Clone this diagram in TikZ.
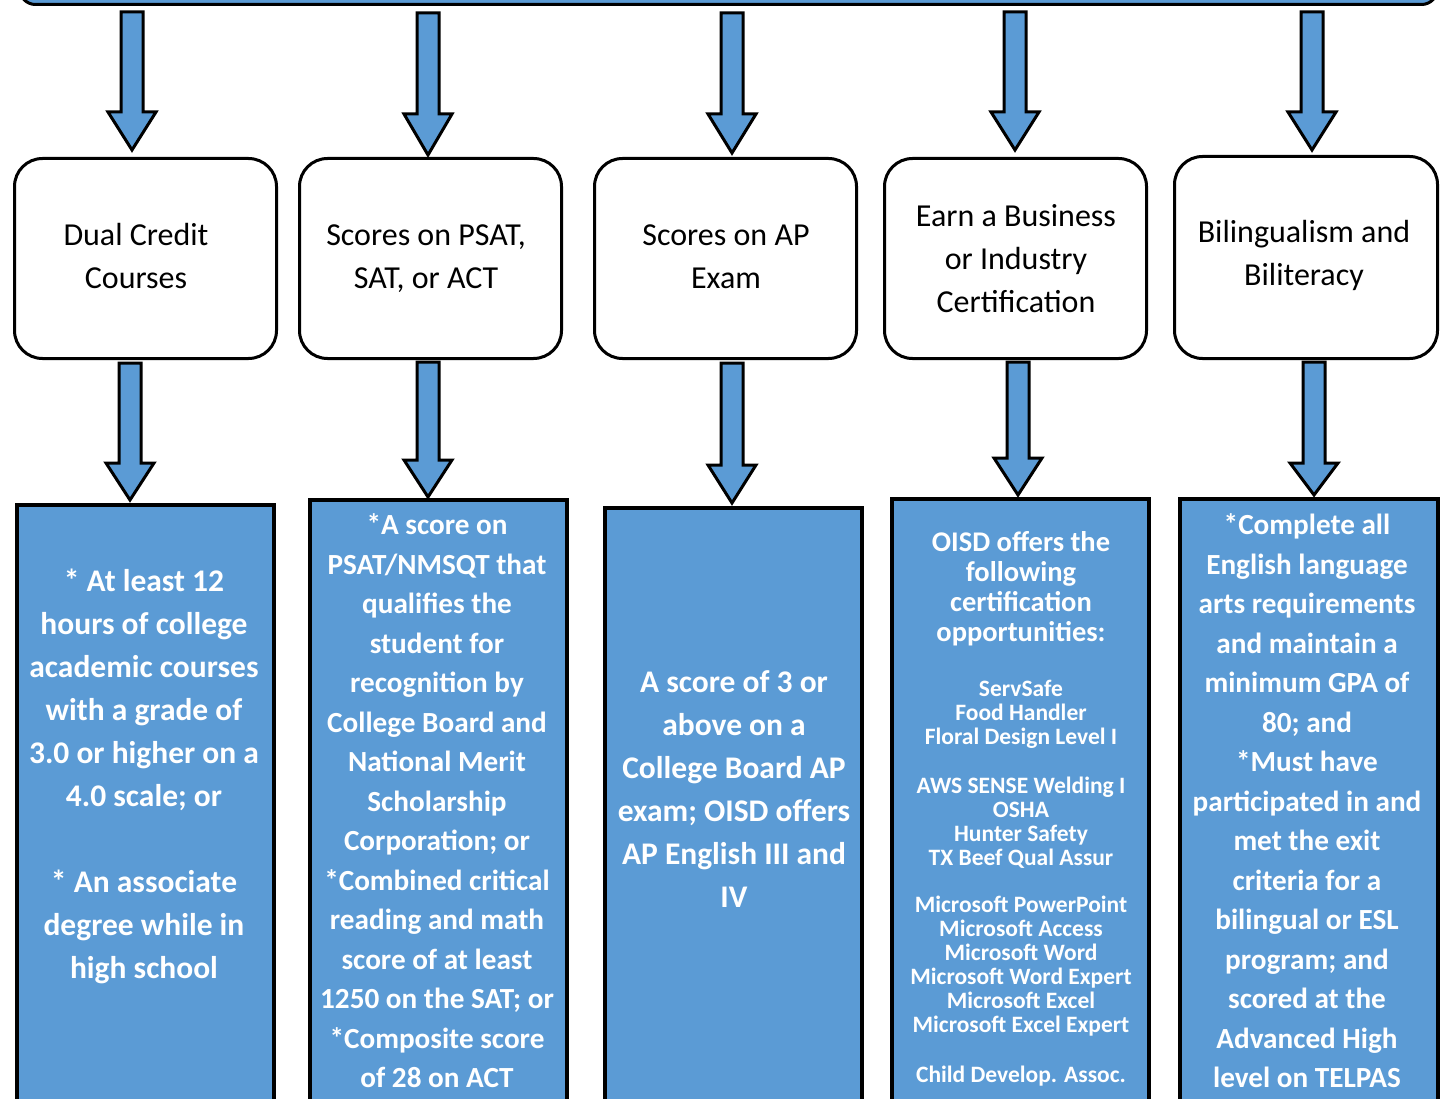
\documentclass[tikz,border=0pt]{standalone}
\usepackage{fontspec}
\setmainfont{Carlito}
\definecolor{obl}{RGB}{91,155,213}
\newcommand{\blkarrow}[4]{%
  \draw[blk] ({#1-11},#2) -- ({#1+11},#2) -- ({#1+11},#3) -- ({#1+24},#3) -- (#1,#4) -- ({#1-24},#3) -- ({#1-11},#3) -- cycle;}
\tikzset{
  blk/.style={fill=obl, draw=black, line width=3pt, line join=miter},
  midbox/.style={draw=black, line width=3pt, fill=white, rounded corners=28pt, anchor=north west, inner sep=0pt},
  bluebox/.style={draw=black, line width=3.5pt, fill=obl, anchor=north west, inner sep=0pt},
  midtxt/.style={align=center, font=\fontsize{32}{43}\selectfont, inner sep=0pt},
  bta/.style={align=center, text=white, font=\bfseries\fontsize{31.5}{43}\selectfont, inner sep=0pt},
  btb/.style={align=center, text=white, font=\bfseries\fontsize{29.2}{39.5}\selectfont, inner sep=0pt},
  bth/.style={align=center, text=white, font=\bfseries\fontsize{28.5}{30}\selectfont, inner sep=0pt},
  btl/.style={align=center, text=white, font=\bfseries\fontsize{23.5}{24}\selectfont, inner sep=0pt},
}
\begin{document}
\begin{tikzpicture}[x=1pt,y=-1pt]
\useasboundingbox (0,0) rectangle (1442,1099);
\clip (0,0) rectangle (1442,1099);
% top bar
\node[draw=black, line width=3pt, fill=obl, rounded corners=16pt, anchor=south west, minimum width=1418pt, minimum height=70pt, inner sep=0pt] (top) at (18,6) {};
% top arrows
\blkarrow{132}{12}{112}{150}
\blkarrow{428}{13}{114}{155}
\blkarrow{732}{13}{114}{153}
\blkarrow{1015}{12}{112}{150}
\blkarrow{1312}{12}{112}{150}
% middle rounded boxes
\node[midbox, minimum width=262pt, minimum height=200pt] (m1) at (13,157) {};
\node[midbox, minimum width=262pt, minimum height=200pt] (m2) at (298,157) {};
\node[midbox, minimum width=262pt, minimum height=200pt] (m3) at (593,157) {};
\node[midbox, minimum width=262pt, minimum height=200pt] (m4) at (883,157) {};
\node[midbox, minimum width=263pt, minimum height=202pt] (m5) at (1173,155) {};
\node[midtxt] (mt1) at (136,256) {Dual Credit\\Courses};
\node[midtxt] (mt2) at (426,259) {Scores on PSAT,\\SAT, or ACT};
\node[midtxt] (mt3) at (726,257) {Scores on AP\\Exam};
\node[midtxt] (mt4) at (1016,258.5) {Earn a Business\\or Industry\\Certification};
\node[midtxt] (mt5) at (1304,255.5) {Bilingualism and\\Biliteracy};
% lower arrows
\blkarrow{130}{363}{463}{500}
\blkarrow{428}{362}{460}{497}
\blkarrow{732}{363}{465}{503}
\blkarrow{1018}{362}{458}{495}
\blkarrow{1314}{362}{463}{495}
% bottom blue boxes
\node[bluebox, minimum width=257pt, minimum height=640pt] (b1) at (15,503) {};
\node[bluebox, minimum width=257pt, minimum height=640pt] (b2) at (308,498) {};
\node[bluebox, minimum width=257pt, minimum height=640pt] (b3) at (603,506) {};
\node[bluebox, minimum width=257pt, minimum height=640pt] (b4) at (890,497) {};
\node[bluebox, minimum width=258pt, minimum height=640pt] (b5) at (1178,497) {};
% bottom texts
\node[bta] (bt1) at (144,776) {* At least 12\\hours of college\\academic courses\\with a grade of\\3.0 or higher on a\\4.0 scale; or\\[43pt]* An associate\\degree while in\\high school};
\node[btb] (bt2) at (437,801) {*A score on\\PSAT/NMSQT that\\qualifies the\\student for\\recognition by\\College Board and\\National Merit\\Scholarship\\Corporation; or\\*Combined critical\\reading and math\\score of at least\\1250 on the SAT; or\\*Composite score\\of 28 on ACT};
\node[bta] (bt3) at (734,789) {A score of 3 or\\above on a\\College Board AP\\exam; OISD offers\\AP English III and\\IV};
\node[bth] (bt4h) at (1021,589) {OISD offers the\\following\\certification\\opportunities:};
\node[btl] (bt4a) at (1021,714) {ServSafe\\Food Handler\\Floral Design Level I};
\node[btl] (bt4b) at (1021,823) {AWS SENSE Welding I\\OSHA\\Hunter Safety\\TX Beef Qual Assur};
\node[btl] (bt4c) at (1021,966) {Microsoft PowerPoint\\Microsoft Access\\Microsoft Word\\Microsoft Word Expert\\Microsoft Excel\\Microsoft Excel Expert};
\node[btl] (bt4d) at (1021,1076) {Child Develop. Assoc.};
\node[btb] (bt5) at (1307,801) {*Complete all\\English language\\arts requirements\\and maintain a\\minimum GPA of\\80; and\\*Must have\\participated in and\\met the exit\\criteria for a\\bilingual or ESL\\program; and\\scored at the\\Advanced High\\level on TELPAS};
\end{tikzpicture}
\end{document}
